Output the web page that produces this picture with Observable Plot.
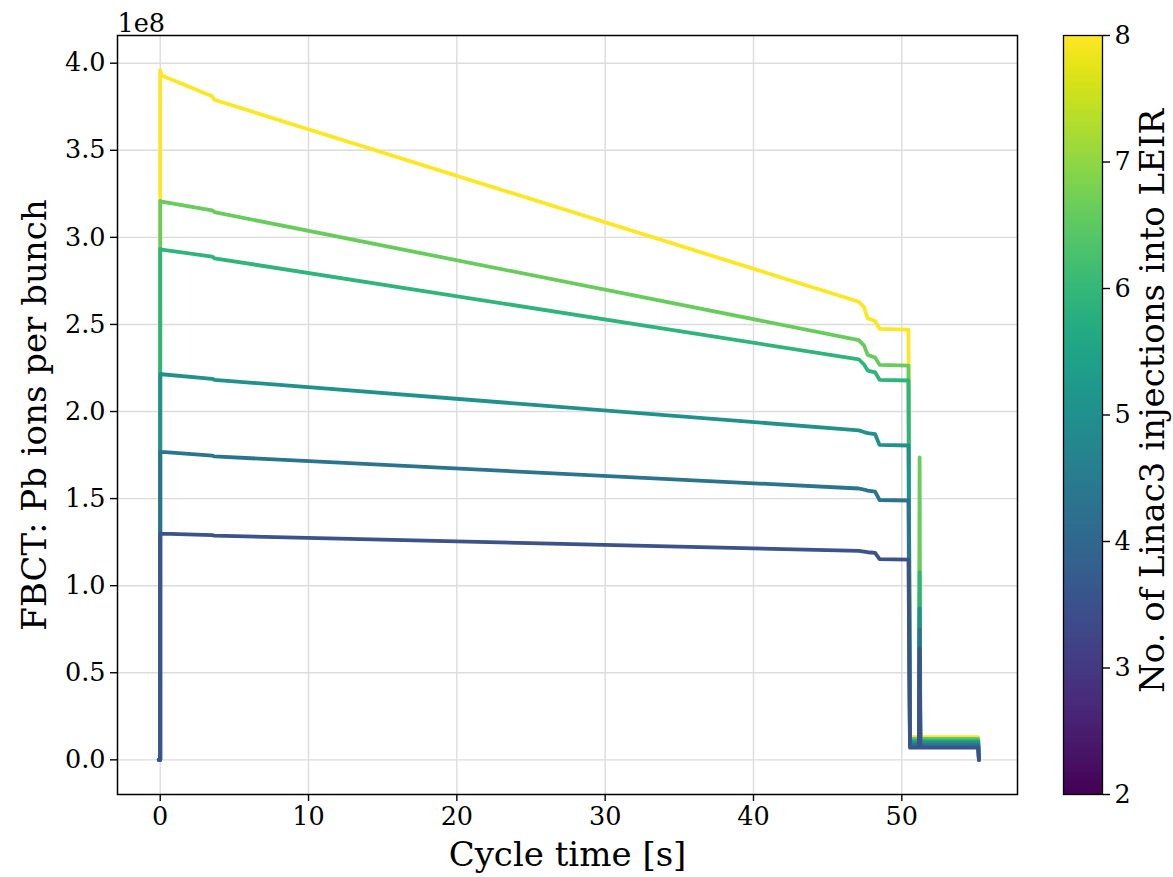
<!DOCTYPE html>
<html><head><meta charset="utf-8">
<script src="https://cdn.jsdelivr.net/npm/d3@7"></script>
<script src="https://cdn.jsdelivr.net/npm/@observablehq/plot@0.6"></script>
<style>
body{margin:0;background:#fff;}
#wrap{position:relative;width:1173px;height:877px;overflow:hidden;}
#main{position:absolute;left:0;top:0;}
#cbar{position:absolute;left:1040px;top:0;}
svg{font-family:"DejaVu Serif",serif;}
svg [aria-label$="tick"]{stroke-width:1.4px;}
</style></head><body><div id="wrap"><div id="main"></div><div id="cbar"></div></div>
<script>
// cycle time [s] of the shared breakpoints
const timeS = [-0.1, 0, 0, 0.1, 3.5, 3.65, 47.1, 47.45, 47.7, 48.2, 48.5, 50.45, 50.55, 51.15, 51.2, 51.25, 55.15, 55.2];
// FBCT intensity, in units of 1e8 Pb ions per bunch
const ions8inj = [0, 0, 3.96, 3.93, 3.81, 3.79, 2.63, 2.60, 2.535, 2.52, 2.475, 2.47, 0.13, 0.13, 0.95, 0.13, 0.13, 0.0];
const ions7inj = [0, 0, 3.21, 3.205, 3.155, 3.145, 2.41, 2.38, 2.325, 2.31, 2.268, 2.264, 0.12, 0.12, 1.737, 0.12, 0.12, 0.0];
const ions6inj = [0, 0, 2.934, 2.93, 2.89, 2.88, 2.30, 2.27, 2.235, 2.225, 2.182, 2.178, 0.11, 0.11, 1.077, 0.11, 0.11, 0.0];
const ions5inj = [0, 0, 2.216, 2.214, 2.188, 2.182, 1.892, 1.882, 1.876, 1.87, 1.808, 1.805, 0.10, 0.10, 0.87, 0.10, 0.10, 0.0];
const ions4inj = [0, 0, 1.770, 1.768, 1.747, 1.742, 1.558, 1.552, 1.546, 1.54, 1.492, 1.489, 0.085, 0.085, 0.75, 0.085, 0.085, 0.0];
const ions3inj = [0, 0, 1.300, 1.299, 1.29, 1.287, 1.20, 1.196, 1.192, 1.188, 1.152, 1.150, 0.07, 0.07, 0.64, 0.07, 0.07, 0.0];
// colour value (no. of Linac3 injections) of each curve
const injections = [8, 6.6, 5.9, 5.0, 4.3, 3.5];
const seriesValues = [ions8inj, ions7inj, ions6inj, ions5inj, ions4inj, ions3inj];
// tick labels
const xTicks = [0, 10, 20, 30, 40, 50];
const yTicks = [0, 0.5, 1.0, 1.5, 2.0, 2.5, 3.0, 3.5, 4.0];
const cbTicks = [2, 3, 4, 5, 6, 7, 8];
const cbDomain = [2, 8];

const rows = seriesValues.flatMap((vals, k) => timeS.map((t, i) => ({t, v: vals[i], n: injections[k]})));

const main = Plot.plot({
  width: 1040, height: 877,
  marginLeft: 117, marginRight: 23, marginTop: 35, marginBottom: 83,
  style: {fontFamily: "DejaVu Serif", fontSize: "25.5px", color: "black", background: "white", overflow: "visible"},
  x: {domain: [-2.88, 57.8], ticks: xTicks, tickFormat: d => String(d), tickSize: 7, tickPadding: 5, label: null},
  y: {domain: [-0.199, 4.159], ticks: yTicks, tickFormat: d => d.toFixed(1), tickSize: 7, tickPadding: 5, label: null},
  color: {type: "linear", scheme: "viridis", domain: cbDomain},
  marks: [
    Plot.ruleX(xTicks, {stroke: "#dcdcdc", strokeWidth: 1.4}),
    Plot.ruleY(yTicks, {stroke: "#dcdcdc", strokeWidth: 1.4}),
    Plot.line(rows, {x: "t", y: "v", z: "n", stroke: "n", strokeWidth: 3.8, strokeLinejoin: "round", strokeLinecap: "round"}),
    Plot.frame({stroke: "black", strokeWidth: 1.5}),
    Plot.text(["1e8"], {frameAnchor: "top-left", dy: -4, textAnchor: "start", lineAnchor: "bottom", fontSize: 25.5}),
    Plot.text(["FBCT: Pb ions per bunch"], {frameAnchor: "left", rotate: -90, dx: -82, fontSize: 34, textAnchor: "middle", lineAnchor: "middle"}),
    Plot.text(["Cycle time [s]"], {frameAnchor: "bottom", dy: 61, fontSize: 34, textAnchor: "middle", lineAnchor: "middle"})
  ]
});
document.getElementById("main").appendChild(main);

const nSteps = 300;
const cbSteps = d3.range(nSteps).map(i => {
  const a = cbDomain[0] + (cbDomain[1] - cbDomain[0]) * i / nSteps;
  const b = cbDomain[0] + (cbDomain[1] - cbDomain[0]) * (i + 1.6) / nSteps;
  return {y1: a, y2: Math.min(b, cbDomain[1]), c: a + (cbDomain[1] - cbDomain[0]) / nSteps / 2};
});
const cbar = Plot.plot({
  width: 133, height: 877,
  marginLeft: 23, marginRight: 71, marginTop: 35, marginBottom: 83,
  style: {fontFamily: "DejaVu Serif", fontSize: "25.5px", color: "black", background: "white", overflow: "visible"},
  y: {domain: cbDomain, ticks: cbTicks, tickFormat: d => String(d), tickSize: 7, tickPadding: 5, axis: "right", label: null},
  color: {type: "linear", scheme: "viridis", domain: cbDomain},
  marks: [
    Plot.rect(cbSteps, {y1: "y1", y2: "y2", fill: "c"}),
    Plot.frame({stroke: "black", strokeWidth: 1.3}),
    Plot.text(["No. of Linac3 injections into LEIR"], {frameAnchor: "right", rotate: -90, dx: 51, dy: -14, fontSize: 34, textAnchor: "middle", lineAnchor: "middle"})
  ]
});
document.getElementById("cbar").appendChild(cbar);
</script></body></html>
